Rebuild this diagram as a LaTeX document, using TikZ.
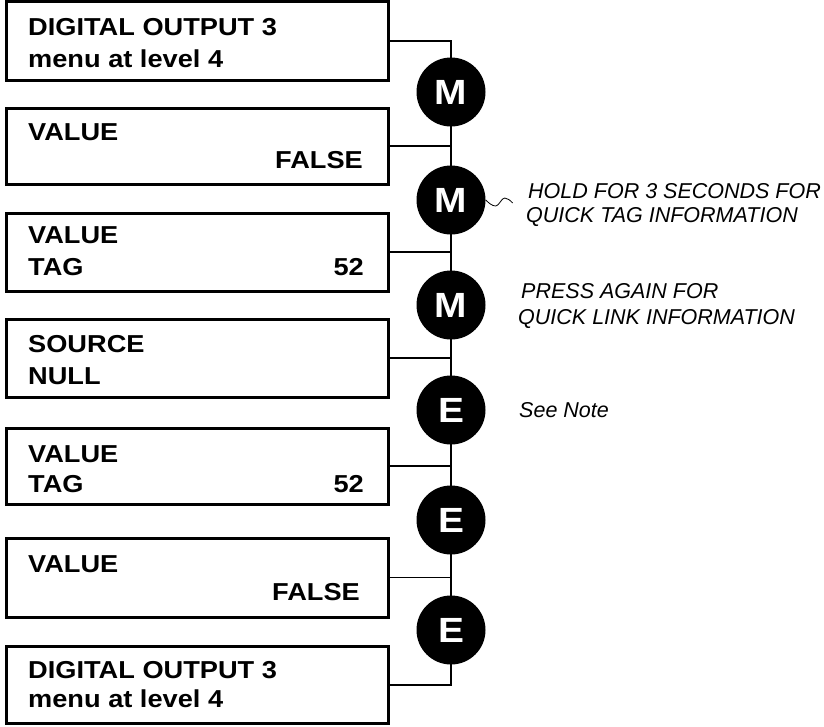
\documentclass[tikz,border=0pt]{standalone}
\usepackage{fontspec}
\setmainfont{Liberation Sans}
\newfontfamily\boxfont[FakeStretch=1.11]{Liberation Sans}
\usetikzlibrary{backgrounds}
\tikzset{
  menubox/.style={draw, line width=3pt, rectangle, minimum width=381.5pt, inner sep=0pt},
  keybtn/.style={circle, fill=black, minimum size=69pt, inner sep=0pt, text=white,
    font=\boxfont\bfseries\fontsize{35}{35}\selectfont},
  boxtxt/.style={inner sep=0pt, font=\boxfont\bfseries\fontsize{24.5}{28}\selectfont},
  notetxt/.style={inner sep=0pt, anchor=base west, font=\itshape\fontsize{21.5}{24}\selectfont},
  conn/.style={line width=1.6pt},
}
\begin{document}
\begin{tikzpicture}[x=1pt,y=-1pt]
\useasboundingbox (0,0) rectangle (824,726);
% boxes
\node[menubox, minimum height=78.5pt] (box1) at (197.25,40.75) {};
\node[menubox, minimum height=76pt]   (box2) at (197.25,146) {};
\node[menubox, minimum height=78pt]   (box3) at (197.25,252) {};
\node[menubox, minimum height=78pt]   (box4) at (197.25,358) {};
\node[menubox, minimum height=76pt]   (box5) at (197.25,466) {};
\node[menubox, minimum height=79pt]   (box6) at (197.25,577.5) {};
\node[menubox, minimum height=77pt]   (box7) at (197.25,685) {};
% box texts
\node[boxtxt, anchor=base west] (t1a) at (28,35) {DIGITAL OUTPUT 3};
\node[boxtxt, anchor=base west] (t1b) at (28,67) {menu at level 4};
\node[boxtxt, anchor=base west] (t2a) at (28,140) {VALUE};
\node[boxtxt, anchor=base east] (t2b) at (363,168) {FALSE};
\node[boxtxt, anchor=base west] (t3a) at (28,243) {VALUE};
\node[boxtxt, anchor=base west] (t3b) at (28,275) {TAG};
\node[boxtxt, anchor=base east] (t3c) at (364,275) {52};
\node[boxtxt, anchor=base west] (t4a) at (28,352) {SOURCE};
\node[boxtxt, anchor=base west] (t4b) at (28,384) {NULL};
\node[boxtxt, anchor=base west] (t5a) at (28,462) {VALUE};
\node[boxtxt, anchor=base west] (t5b) at (28,492) {TAG};
\node[boxtxt, anchor=base east] (t5c) at (364,492) {52};
\node[boxtxt, anchor=base west] (t6a) at (28,572) {VALUE};
\node[boxtxt, anchor=base east] (t6b) at (360,600) {FALSE};
\node[boxtxt, anchor=base west] (t7a) at (28,678) {DIGITAL OUTPUT 3};
\node[boxtxt, anchor=base west] (t7b) at (28,707) {menu at level 4};
% keys
\node[keybtn] (m1) at (451,92) {M};
\node[keybtn] (m2) at (451,200) {M};
\node[keybtn] (m3) at (451,305) {M};
\node[keybtn] (e1) at (451,410) {E};
\node[keybtn] (e2) at (451,520) {E};
\node[keybtn] (e3) at (451,630) {E};
% connectors
\begin{scope}[on background layer]
\draw[conn] (box1.east) -- (box1.east -| m1.center) -- (box7.east -| m1.center) -- (box7.east);
\draw[conn] (box2.east) -- (box2.east -| m1.center);
\draw[conn] (box3.east) -- (box3.east -| m1.center);
\draw[conn] (box4.east) -- (box4.east -| m1.center);
\draw[conn] (box5.east) -- (box5.east -| m1.center);
\draw[conn] (box6.east) -- (box6.east -| m1.center);
\end{scope}
% wave
\draw[line width=0.8pt] (m2.east) sin ++(10,6) cos ++(4.5,-4) sin ++(4.5,-4) cos ++(8,5);
% notes
\node[notetxt] (n1) at (528,198) {HOLD FOR 3 SECONDS FOR};
\node[notetxt] (n2) at (526,222) {QUICK TAG INFORMATION};
\node[notetxt] (n3) at (521,298) {PRESS AGAIN FOR};
\node[notetxt] (n4) at (518,324) {QUICK LINK INFORMATION};
\node[notetxt] (n5) at (519,417) {See Note};
\end{tikzpicture}
\end{document}
